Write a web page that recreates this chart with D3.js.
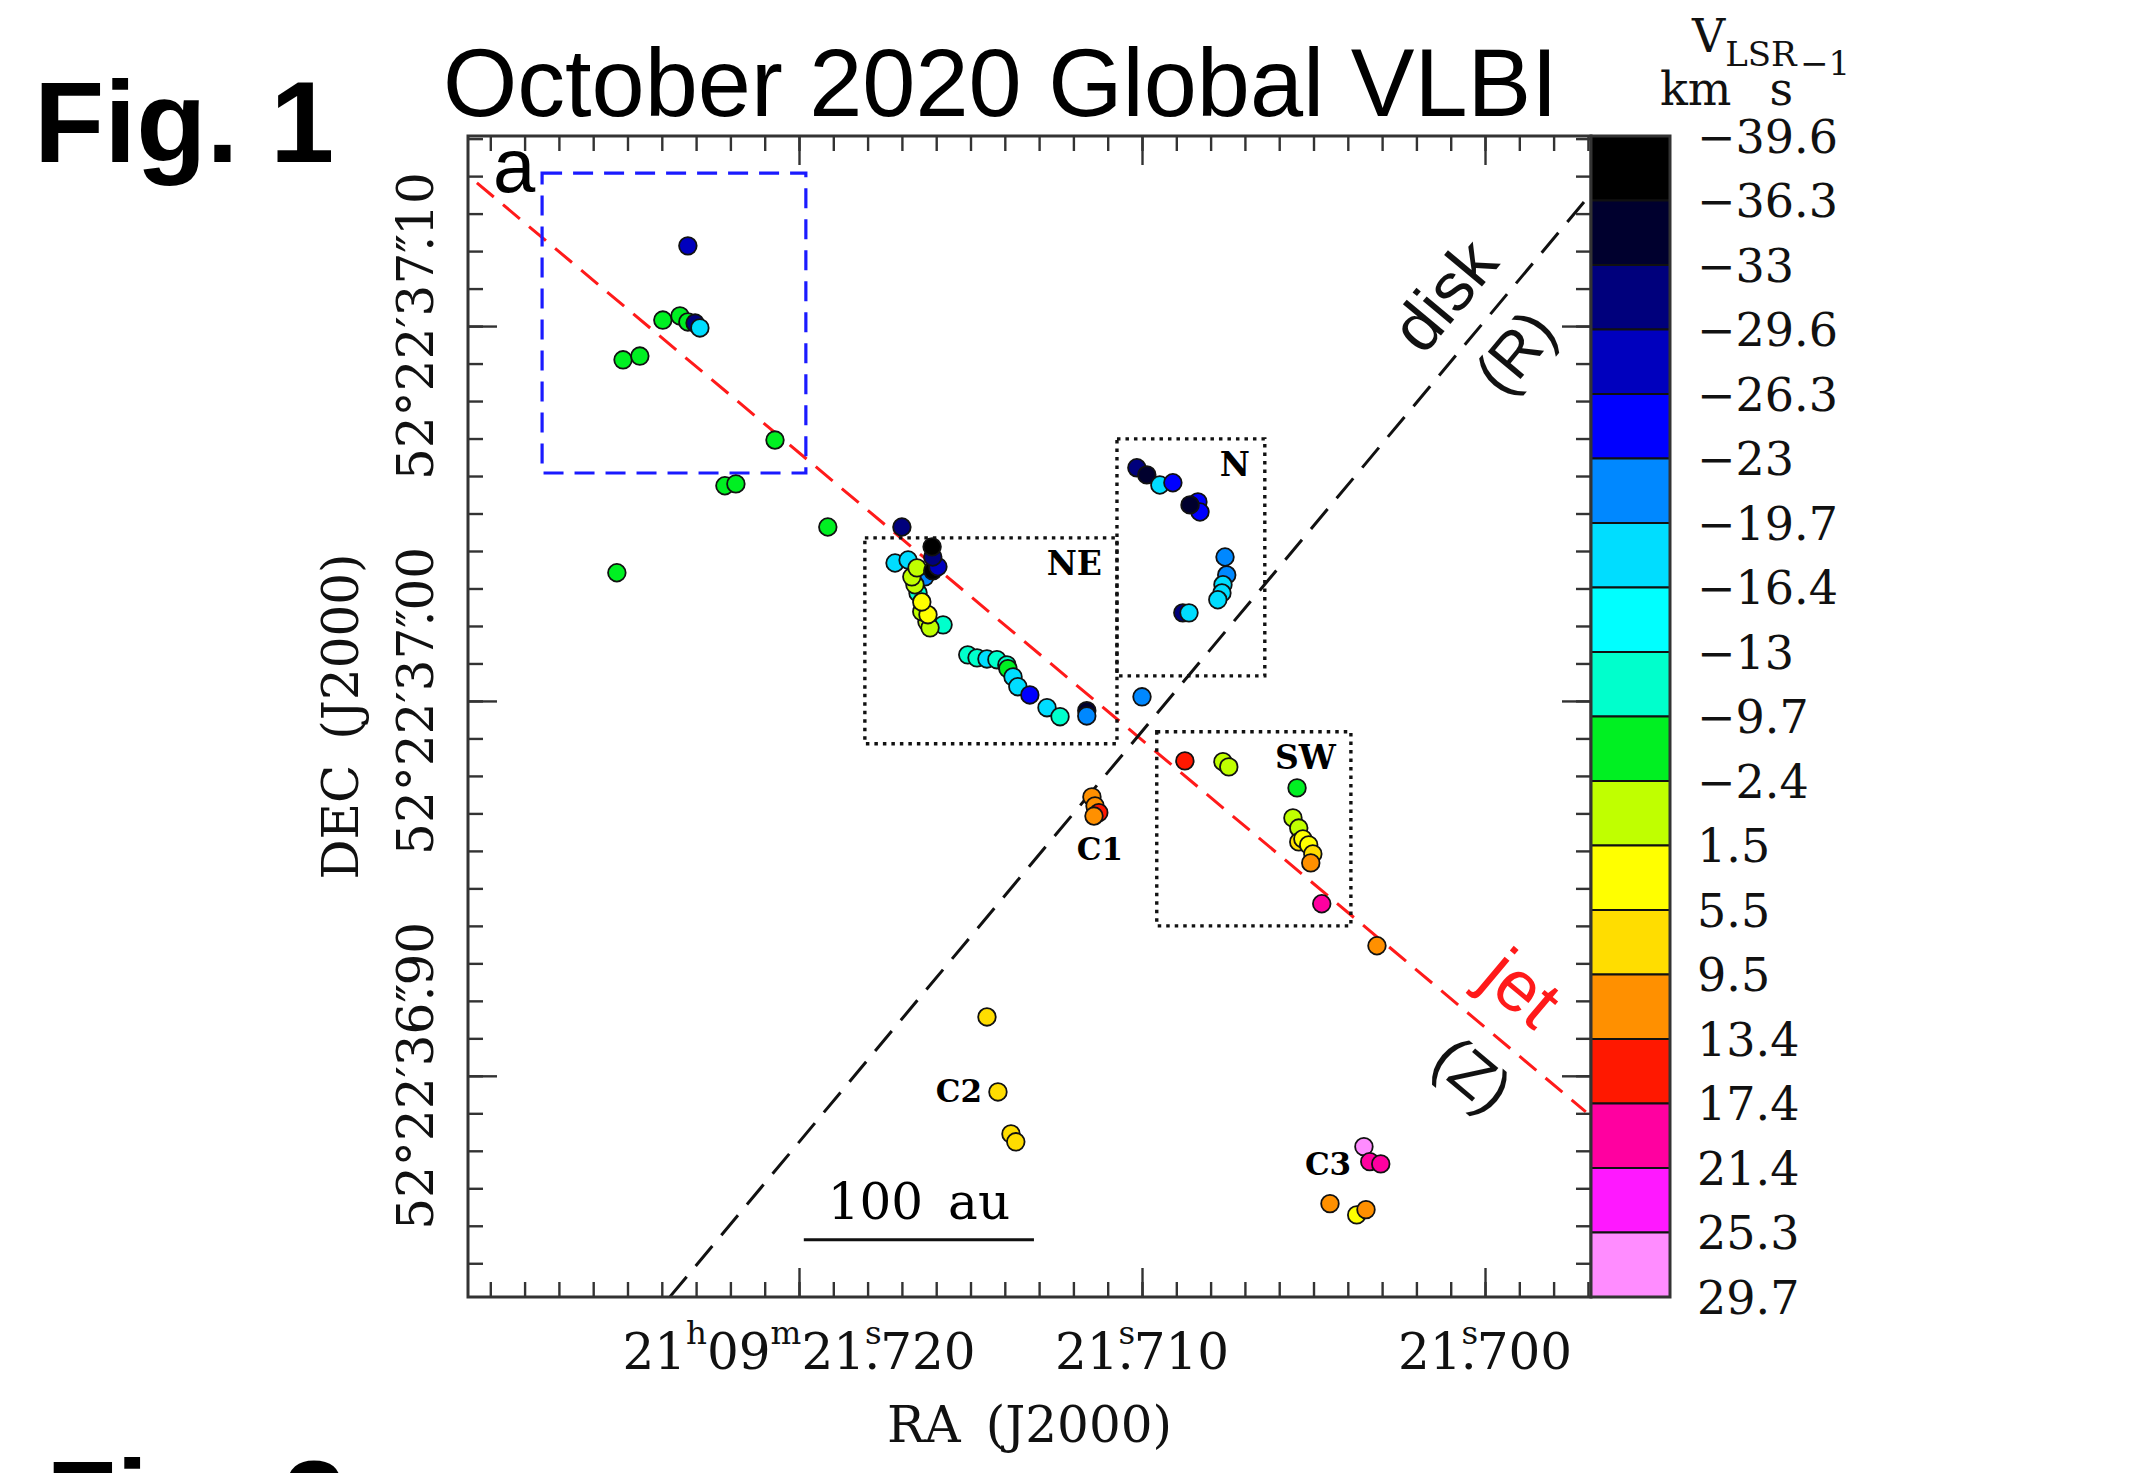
<!DOCTYPE html>
<html>
<head>
<meta charset="utf-8">
<script src="https://cdn.jsdelivr.net/npm/d3@7"></script>
<style>
  body { margin: 0; background: #fff; }
  svg { display: block; }
</style>
</head>
<body>
<div id="chart"></div>
<script>
// maser spots: [RA seconds of 21h09m, DEC arcsec of 52°22', V_LSR km/s]
const spotsNW = [
  [21.72324, 37.1214, -28],
  [21.72397, 37.1016, -6],
  [21.72347, 37.1027, -6],
  [21.72324, 37.1011, -5],
  [21.72303, 37.1008, -31],
  [21.72289, 37.0995, -18],
  [21.72513, 37.0910, -6],
  [21.72464, 37.0920, -6],
  [21.72070, 37.0696, -6],
  [21.72216, 37.0574, -6],
  [21.72184, 37.0579, -6],
  [21.71916, 37.0464, -6],
  [21.72531, 37.0342, -6]
];
const spotsNE = [
  [21.71700, 37.0464, -31],
  [21.71580, 37.0203, -11],
  [21.71653, 37.0288, -11],
  [21.71720, 37.0368, -18],
  [21.71682, 37.0376, -18],
  [21.71633, 37.0331, -21],
  [21.71627, 37.0211, -0.5],
  [21.71618, 37.0195, -0.5],
  [21.71642, 37.0238, 0],
  [21.71624, 37.0230, 3.5],
  [21.71642, 37.0264, 3.5],
  [21.71662, 37.0310, -0.5],
  [21.71671, 37.0331, -0.5],
  [21.71656, 37.0355, -0.5],
  [21.71610, 37.0347, -38],
  [21.71595, 37.0358, -28],
  [21.71610, 37.0384, -31],
  [21.71612, 37.0411, -38],
  [21.71508, 37.0123, -11],
  [21.71481, 37.0115, -11],
  [21.71452, 37.0112, -18],
  [21.71423, 37.0110, -11],
  [21.71394, 37.0096, -11],
  [21.71391, 37.0086, -6],
  [21.71376, 37.0064, -18],
  [21.71362, 37.0038, -18],
  [21.71327, 37.0016, -24.5],
  [21.71277, 36.9982, -18],
  [21.71239, 36.9958, -11],
  [21.71161, 36.9974, -34.5],
  [21.71161, 36.9960, -21],
  [21.71000, 37.0011, -21]
];
const spotsN = [
  [21.71015, 37.0622, -31],
  [21.70986, 37.0603, -34.5],
  [21.70948, 37.0576, -18],
  [21.70910, 37.0582, -24.5],
  [21.70837, 37.0531, -24.5],
  [21.70831, 37.0504, -24.5],
  [21.70860, 37.0523, -34.5],
  [21.70758, 37.0384, -21],
  [21.70753, 37.0336, -21],
  [21.70764, 37.0310, -18],
  [21.70767, 37.0288, -18],
  [21.70779, 37.0270, -18],
  [21.70881, 37.0235, -31],
  [21.70863, 37.0235, -18]
];
const spotsSW = [
  [21.70875, 36.9840, 15.5],
  [21.70764, 36.9838, -0.5],
  [21.70747, 36.9824, -0.5],
  [21.70548, 36.9768, -6],
  [21.70560, 36.9688, -0.5],
  [21.70543, 36.9661, -0.5],
  [21.70543, 36.9624, 7.5],
  [21.70531, 36.9632, 3.5],
  [21.70514, 36.9616, 3.5],
  [21.70502, 36.9592, 7.5],
  [21.70508, 36.9568, 11.5],
  [21.70476, 36.9459, 19.5],
  [21.70315, 36.9347, 11.5]
];
const spotsC1 = [
  [21.71146, 36.9744, 11.5],
  [21.71137, 36.9720, 11.5],
  [21.71126, 36.9702, 15.5],
  [21.71140, 36.9693, 11.5]
];
const spotsC2 = [
  [21.71452, 36.9157, 7.5],
  [21.71420, 36.8957, 7.5],
  [21.71382, 36.8845, 7.5],
  [21.71368, 36.8824, 7.5]
];
const spotsC3 = [
  [21.70353, 36.8811, 27.5],
  [21.70336, 36.8771, 19.5],
  [21.70304, 36.8765, 19.5],
  [21.70452, 36.8659, 11.5],
  [21.70374, 36.8629, 3.5],
  [21.70347, 36.8643, 11.5]
];

// colour bar: velocity bin edges and bin colours
const vEdges = [-39.6, -36.3, -33, -29.6, -26.3, -23, -19.7, -16.4, -13, -9.7, -2.4,
                1.5, 5.5, 9.5, 13.4, 17.4, 21.4, 25.3, 29.7];
const vColors = ['#000000', '#00002e', '#00007c', '#0000be', '#0000ff', '#0088ff',
                 '#00ddff', '#00ffff', '#00ffcc', '#00f022', '#c0ff00', '#ffff00',
                 '#ffdd00', '#ff9000', '#ff1800', '#ff00a0', '#ff18ff', '#ff8cff'];

// axes
const raMajor = [21.720, 21.710, 21.700];
const raTickLabels = ['21^h09^m21^s.720', '21^s.710', '21^s.700'];
const raMinor = d3.range(21697, 21730).map(d => d / 1000);
const decMajor = [37.10, 37.00, 36.90];
const decTickLabels = ['52°22′37″.10', '52°22′37″.00', '52°22′36″.90'];
const decMinor = d3.range(3685, 3716).map(d => d / 100);

// annotations (data coordinates)
const jetLine = [[21.72939, 37.1382], [21.69706, 36.8904]];
const diskLine = [[21.72376, 36.8411], [21.69694, 37.1350]];
const zoomBox = {ra: [21.72749, 21.71980], dec: [37.1408, 37.0608]};
const regionNames = ['NE', 'N', 'SW'];
const regionRa = [[21.71808, 21.71073], [21.71073, 21.70642], [21.70957, 21.70391]];
const regionDec = [[37.0435, 36.9886], [37.0699, 37.0067], [36.9918, 36.9400]];
const clusterNames = ['C1', 'C2', 'C3'];
const clusterPos = [[21.71190, 36.9576], [21.71601, 36.8931], [21.70525, 36.8736]];
const scaleBarRa = [21.71986, 21.71315];
const scaleBarDec = 36.8563;

const SERIF = '"DejaVu Serif", serif';
const SANS = '"Liberation Sans", Arial, sans-serif';

const W = 2153, H = 1473;
const plot = {left: 468, right: 1591, top: 136, bottom: 1297};

const svg = d3.select('#chart').append('svg')
    .attr('width', W)
    .attr('height', H);

const x = d3.scaleLinear().domain([21.72965, 21.69691]).range([plot.left, plot.right]);
const y = d3.scaleLinear().domain([37.1507, 36.8410]).range([plot.top, plot.bottom]);
const color = d3.scaleThreshold().domain(vEdges.slice(1, -1)).range(vColors);

// text with '^c' raised characters; a '.' after a raised char or ″ slides under it
function richLabel(text, str, size) {
    text.text(null);
    const parts = str.split(/(\^.|″)/).filter(s => s.length);
    let lift = 0, tuck = false;
    for (const p of parts) {
        const t = text.append('tspan');
        if (p[0] === '^') {
            t.text(p.slice(1)).attr('font-size', size * 0.65).attr('dy', -size * 0.5);
            lift = size * 0.5; tuck = true;
        } else if (p === '″') {
            t.text(p); tuck = true;
        } else {
            if (lift) t.attr('dy', lift);
            if (tuck && p[0] === '.') t.attr('dx', -size * 0.35);
            t.text(p);
            lift = 0; tuck = false;
        }
    }
}

// headings
svg.append('text')
    .attr('x', 34).attr('y', 162)
    .attr('font-family', SANS).attr('font-weight', 'bold').attr('font-size', 115)
    .text('Fig. 1');
svg.append('text')
    .attr('x', 46).attr('y', 1541)
    .attr('font-family', SANS).attr('font-weight', 'bold').attr('font-size', 115)
    .text('Fig. 2');
svg.append('text')
    .attr('x', 443).attr('y', 116)
    .attr('font-family', SANS).attr('font-size', 95.5)
    .text('October 2020 Global VLBI');

// guide lines
const lineGroup = svg.append('g');
lineGroup.append('line')
    .attr('x1', x(jetLine[0][0])).attr('y1', y(jetLine[0][1]))
    .attr('x2', x(jetLine[1][0])).attr('y2', y(jetLine[1][1]))
    .attr('stroke', '#ff1a1a').attr('stroke-width', 3).attr('stroke-dasharray', '22,12');
lineGroup.append('line')
    .attr('x1', x(diskLine[0][0])).attr('y1', y(diskLine[0][1]))
    .attr('x2', x(diskLine[1][0])).attr('y2', y(diskLine[1][1]))
    .attr('stroke', '#111').attr('stroke-width', 3).attr('stroke-dasharray', '26,14');

lineGroup.append('rect')
    .attr('x', x(zoomBox.ra[0])).attr('y', y(zoomBox.dec[0]))
    .attr('width', x(zoomBox.ra[1]) - x(zoomBox.ra[0]))
    .attr('height', y(zoomBox.dec[1]) - y(zoomBox.dec[0]))
    .attr('fill', 'none').attr('stroke', '#1a1aff').attr('stroke-width', 3.2)
    .attr('stroke-dasharray', '20,11');

const regions = regionNames.map((name, i) => ({name, ra: regionRa[i], dec: regionDec[i]}));
lineGroup.selectAll('rect.region')
    .data(regions)
    .join('rect')
    .classed('region', true)
    .attr('x', d => x(d.ra[0])).attr('y', d => y(d.dec[0]))
    .attr('width', d => x(d.ra[1]) - x(d.ra[0]))
    .attr('height', d => y(d.dec[1]) - y(d.dec[0]))
    .attr('fill', 'none').attr('stroke', '#111').attr('stroke-width', 3.4)
    .attr('stroke-dasharray', '3.5,5');
lineGroup.selectAll('text.region')
    .data(regions)
    .join('text')
    .classed('region', true)
    .attr('x', d => x(d.ra[1]) - 15).attr('y', d => y(d.dec[0]) + 37)
    .attr('text-anchor', 'end')
    .attr('font-family', SERIF).attr('font-weight', 'bold').attr('font-size', 33)
    .text(d => d.name);
lineGroup.selectAll('text.cluster')
    .data(clusterNames)
    .join('text')
    .classed('cluster', true)
    .attr('x', (d, i) => x(clusterPos[i][0])).attr('y', (d, i) => y(clusterPos[i][1]))
    .attr('font-family', SERIF).attr('font-weight', 'bold').attr('font-size', 31)
    .text(d => d);

// line labels, rotated along the lines
function lineAngle(l) {
    return Math.atan2(y(l[1][1]) - y(l[0][1]), x(l[1][0]) - x(l[0][0])) * 180 / Math.PI;
}
const diskAng = lineAngle(diskLine), jetAng = lineAngle(jetLine);
const lineLabels = [
    {t: 'disk', ra: 21.70120, dec: 37.1083, ang: diskAng, c: '#111', s: 68},
    {t: '(R)', ra: 21.69913, dec: 37.0931, ang: diskAng, c: '#111', s: 62},
    {t: 'jet', ra: 21.69893, dec: 36.9235, ang: jetAng, c: '#ff1a1a', s: 72},
    {t: '(Z)', ra: 21.70035, dec: 36.9005, ang: jetAng, c: '#111', s: 62}
];
lineGroup.selectAll('text.linelab')
    .data(lineLabels)
    .join('text')
    .classed('linelab', true)
    .attr('transform', d => `translate(${x(d.ra)},${y(d.dec)}) rotate(${d.ang})`)
    .attr('text-anchor', 'middle').attr('dy', '0.35em')
    .attr('font-family', SANS).attr('font-size', d => d.s)
    .attr('fill', d => d.c)
    .text(d => d.t);

// scale bar
lineGroup.append('line')
    .attr('x1', x(scaleBarRa[0])).attr('x2', x(scaleBarRa[1]))
    .attr('y1', y(scaleBarDec)).attr('y2', y(scaleBarDec))
    .attr('stroke', '#111').attr('stroke-width', 3);
lineGroup.append('text')
    .attr('x', (x(scaleBarRa[0]) + x(scaleBarRa[1])) / 2).attr('y', y(scaleBarDec) - 21)
    .attr('text-anchor', 'middle')
    .attr('font-family', SERIF).attr('font-size', 50)
    .text('100\u2002au');

svg.append('text')
    .attr('x', 493).attr('y', 192)
    .attr('font-family', SANS).attr('font-size', 76)
    .text('a');

// maser spots
const spots = [].concat(spotsNW, spotsNE, spotsN, spotsSW, spotsC1, spotsC2, spotsC3);
svg.append('g').selectAll('circle.spot')
    .data(spots)
    .join('circle')
    .classed('spot', true)
    .attr('cx', d => x(d[0]))
    .attr('cy', d => y(d[1]))
    .attr('r', 8.8)
    .attr('fill', d => color(d[2]))
    .attr('stroke', '#111')
    .attr('stroke-width', 1.8);

// frame and ticks
const axisGroup = svg.append('g').attr('stroke-width', 2.4);
const tickSets = [
    [d3.axisBottom(x), 'translate(0,' + plot.bottom + ')', raMinor, raMajor],
    [d3.axisTop(x), 'translate(0,' + plot.top + ')', raMinor, raMajor],
    [d3.axisLeft(y), 'translate(' + plot.left + ',0)', decMinor, decMajor],
    [d3.axisRight(y), 'translate(' + plot.right + ',0)', decMinor, decMajor]
];
tickSets.forEach(([axis, tr, minor, major]) => {
    axisGroup.append('g').attr('transform', tr)
        .call(axis.tickValues(minor).tickSize(-15).tickSizeOuter(0).tickFormat(''))
        .call(g => g.select('.domain').remove());
    axisGroup.append('g').attr('transform', tr)
        .call(axis.tickValues(major).tickSize(-29).tickSizeOuter(0).tickFormat(''))
        .call(g => g.select('.domain').remove());
});
axisGroup.selectAll('.tick line').attr('stroke', '#333').attr('stroke-width', 2.4);
svg.append('rect')
    .attr('x', plot.left).attr('y', plot.top)
    .attr('width', plot.right - plot.left).attr('height', plot.bottom - plot.top)
    .attr('fill', 'none').attr('stroke', '#333').attr('stroke-width', 3);

// tick labels
svg.append('g').selectAll('text')
    .data(raMajor)
    .join('text')
    .attr('x', d => x(d)).attr('y', 1369)
    .attr('text-anchor', 'middle')
    .attr('font-family', SERIF).attr('font-size', 50).attr('fill', '#111')
    .each(function(d, i) { richLabel(d3.select(this), raTickLabels[i], 50); });
svg.append('g').selectAll('text')
    .data(decMajor)
    .join('text')
    .attr('transform', d => `translate(433,${y(d)}) rotate(-90)`)
    .attr('text-anchor', 'middle')
    .attr('font-family', SERIF).attr('font-size', 50).attr('fill', '#111')
    .each(function(d, i) { richLabel(d3.select(this), decTickLabels[i], 50); });

svg.append('text')
    .attr('x', (plot.left + plot.right) / 2).attr('y', 1442)
    .attr('text-anchor', 'middle')
    .attr('font-family', SERIF).attr('font-size', 50).attr('fill', '#111')
    .text('RA\u2002(J2000)');
svg.append('text')
    .attr('transform', `translate(358,${(plot.top + plot.bottom) / 2}) rotate(-90)`)
    .attr('text-anchor', 'middle')
    .attr('font-family', SERIF).attr('font-size', 50).attr('fill', '#111')
    .text('DEC\u2002(J2000)');

// colour bar
const cb = {left: 1591, right: 1670};
const cbY = d3.scalePoint().domain(d3.range(vEdges.length)).range([plot.top, plot.bottom]);
const cbGroup = svg.append('g');
cbGroup.selectAll('rect.bin')
    .data(vColors)
    .join('rect')
    .classed('bin', true)
    .attr('x', cb.left).attr('width', cb.right - cb.left)
    .attr('y', (d, i) => cbY(i))
    .attr('height', (d, i) => cbY(i + 1) - cbY(i))
    .attr('fill', d => d)
    .attr('stroke', '#111').attr('stroke-width', 2);
cbGroup.append('rect')
    .attr('x', cb.left).attr('y', plot.top)
    .attr('width', cb.right - cb.left).attr('height', plot.bottom - plot.top)
    .attr('fill', 'none').attr('stroke', '#333').attr('stroke-width', 3);
cbGroup.selectAll('text.edge')
    .data(vEdges)
    .join('text')
    .classed('edge', true)
    .attr('x', 1697).attr('y', (d, i) => cbY(i))
    .attr('dy', '0.36em')
    .attr('font-family', SERIF).attr('font-size', 46).attr('fill', '#111')
    .text(d => d < 0 ? '\u2212' + Math.abs(d) : String(d));

const vTitle = cbGroup.append('text')
    .attr('x', 1692).attr('y', 52)
    .attr('font-family', SERIF).attr('font-size', 46).attr('fill', '#111');
vTitle.append('tspan').text('V');
vTitle.append('tspan').attr('font-size', 34).attr('dy', 14).text('LSR');
const uTitle = cbGroup.append('text')
    .attr('x', 1660).attr('y', 105)
    .attr('font-family', SERIF).attr('font-size', 46).attr('fill', '#111');
uTitle.append('tspan').text('km');
uTitle.append('tspan').attr('dx', 38).text('s');
uTitle.append('tspan').attr('font-size', 34).attr('dy', -30).attr('dx', 7).text('\u22121');
</script>
</body>
</html>
